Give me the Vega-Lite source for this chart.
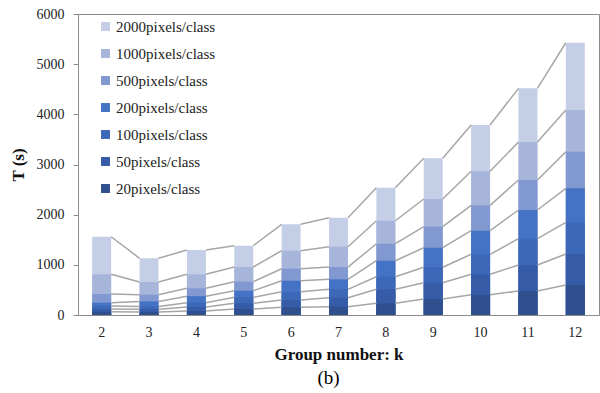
{
  "$schema": "https://vega.github.io/schema/vega-lite/v6.json",
  "width": 521,
  "height": 301,
  "autosize": {"type": "none"},
  "padding": {"left": 78, "top": 14, "right": 1, "bottom": 78},
  "background": "white",
  "title": {"text": "(b)", "orient": "bottom", "font": "Liberation Serif, serif", "fontSize": 19, "fontWeight": "normal", "color": "#000000", "offset": 7, "dx": -10},
  "data": {
    "values": [
      {"k": 2, "series": "2000pixels/class", "T": 1560}, {"k": 2, "series": "1000pixels/class", "T": 811}, {"k": 2, "series": "500pixels/class", "T": 418}, {"k": 2, "series": "200pixels/class", "T": 245}, {"k": 2, "series": "100pixels/class", "T": 180}, {"k": 2, "series": "50pixels/class", "T": 120}, {"k": 2, "series": "20pixels/class", "T": 65},
      {"k": 3, "series": "2000pixels/class", "T": 1130}, {"k": 3, "series": "1000pixels/class", "T": 658}, {"k": 3, "series": "500pixels/class", "T": 405}, {"k": 3, "series": "200pixels/class", "T": 270}, {"k": 3, "series": "100pixels/class", "T": 170}, {"k": 3, "series": "50pixels/class", "T": 115}, {"k": 3, "series": "20pixels/class", "T": 60},
      {"k": 4, "series": "2000pixels/class", "T": 1295}, {"k": 4, "series": "1000pixels/class", "T": 811}, {"k": 4, "series": "500pixels/class", "T": 532}, {"k": 4, "series": "200pixels/class", "T": 375}, {"k": 4, "series": "100pixels/class", "T": 245}, {"k": 4, "series": "50pixels/class", "T": 160}, {"k": 4, "series": "20pixels/class", "T": 80},
      {"k": 5, "series": "2000pixels/class", "T": 1381}, {"k": 5, "series": "1000pixels/class", "T": 957}, {"k": 5, "series": "500pixels/class", "T": 664}, {"k": 5, "series": "200pixels/class", "T": 484}, {"k": 5, "series": "100pixels/class", "T": 353}, {"k": 5, "series": "50pixels/class", "T": 233}, {"k": 5, "series": "20pixels/class", "T": 120},
      {"k": 6, "series": "2000pixels/class", "T": 1808}, {"k": 6, "series": "1000pixels/class", "T": 1282}, {"k": 6, "series": "500pixels/class", "T": 923}, {"k": 6, "series": "200pixels/class", "T": 684}, {"k": 6, "series": "100pixels/class", "T": 465}, {"k": 6, "series": "50pixels/class", "T": 299}, {"k": 6, "series": "20pixels/class", "T": 153},
      {"k": 7, "series": "2000pixels/class", "T": 1940}, {"k": 7, "series": "1000pixels/class", "T": 1361}, {"k": 7, "series": "500pixels/class", "T": 955}, {"k": 7, "series": "200pixels/class", "T": 711}, {"k": 7, "series": "100pixels/class", "T": 512}, {"k": 7, "series": "50pixels/class", "T": 345}, {"k": 7, "series": "20pixels/class", "T": 165},
      {"k": 8, "series": "2000pixels/class", "T": 2537}, {"k": 8, "series": "1000pixels/class", "T": 1879}, {"k": 8, "series": "500pixels/class", "T": 1421}, {"k": 8, "series": "200pixels/class", "T": 1082}, {"k": 8, "series": "100pixels/class", "T": 763}, {"k": 8, "series": "50pixels/class", "T": 512}, {"k": 8, "series": "20pixels/class", "T": 233},
      {"k": 9, "series": "2000pixels/class", "T": 3123}, {"k": 9, "series": "1000pixels/class", "T": 2312}, {"k": 9, "series": "500pixels/class", "T": 1760}, {"k": 9, "series": "200pixels/class", "T": 1341}, {"k": 9, "series": "100pixels/class", "T": 951}, {"k": 9, "series": "50pixels/class", "T": 644}, {"k": 9, "series": "20pixels/class", "T": 319},
      {"k": 10, "series": "2000pixels/class", "T": 3787}, {"k": 10, "series": "1000pixels/class", "T": 2864}, {"k": 10, "series": "500pixels/class", "T": 2186}, {"k": 10, "series": "200pixels/class", "T": 1680}, {"k": 10, "series": "100pixels/class", "T": 1210}, {"k": 10, "series": "50pixels/class", "T": 811}, {"k": 10, "series": "20pixels/class", "T": 405},
      {"k": 11, "series": "2000pixels/class", "T": 4518}, {"k": 11, "series": "1000pixels/class", "T": 3448}, {"k": 11, "series": "500pixels/class", "T": 2691}, {"k": 11, "series": "200pixels/class", "T": 2093}, {"k": 11, "series": "100pixels/class", "T": 1521}, {"k": 11, "series": "50pixels/class", "T": 997}, {"k": 11, "series": "20pixels/class", "T": 478},
      {"k": 12, "series": "2000pixels/class", "T": 5427}, {"k": 12, "series": "1000pixels/class", "T": 4086}, {"k": 12, "series": "500pixels/class", "T": 3255}, {"k": 12, "series": "200pixels/class", "T": 2525}, {"k": 12, "series": "100pixels/class", "T": 1848}, {"k": 12, "series": "50pixels/class", "T": 1216}, {"k": 12, "series": "20pixels/class", "T": 598}
    ]
  },
  "layer": [
    {
      "mark": {"type": "bar"},
      "encoding": {
        "x": {"field": "k", "type": "ordinal",
          "scale": {"paddingInner": 0.6, "paddingOuter": 0.3},
          "axis": {"title": "Group number: k", "labelAngle": 0, "ticks": false, "domainColor": "#8c8c8c", "labelPadding": 10, "titlePadding": 7}},
        "y": {"field": "T", "type": "quantitative", "stack": null,
          "scale": {"domain": [0, 6000]},
          "axis": {"title": "T (s)", "format": "d", "values": [0, 1000, 2000, 3000, 4000, 5000, 6000], "grid": false, "domainColor": "#8c8c8c", "tickColor": "#8c8c8c", "tickSize": 5, "labelPadding": 9, "titlePadding": 9}},
        "color": {"field": "series", "type": "nominal",
          "scale": {"domain": ["2000pixels/class", "1000pixels/class", "500pixels/class", "200pixels/class", "100pixels/class", "50pixels/class", "20pixels/class"],
                    "range": ["#C5CEE7", "#A8B5DB", "#8198D0", "#4472C4", "#3D68B8", "#365CA8", "#2F4F8F"]},
          "legend": {"title": null, "orient": "none", "legendX": 20, "legendY": 5, "symbolType": "square", "symbolSize": 80, "symbolStrokeWidth": 0, "labelFont": "Liberation Serif, serif", "labelFontSize": 15, "labelColor": "#222222", "rowPadding": 11, "labelOffset": 3}}
      }
    },
    {
      "transform": [
        {"window": [{"op": "lead", "field": "T", "as": "T2"}, {"op": "lead", "field": "k", "as": "k2"}], "groupby": ["series"], "sort": [{"field": "k", "order": "ascending"}]},
        {"filter": "datum.k2 != null"}
      ],
      "mark": {"type": "rule", "color": "#A6A6A6", "strokeWidth": 1.5},
      "encoding": {
        "x": {"field": "k", "type": "ordinal", "bandPosition": 1},
        "x2": {"field": "k2", "bandPosition": 0},
        "y": {"field": "T", "type": "quantitative"},
        "y2": {"field": "T2"}
      }
    }
  ],
  "config": {
    "view": {"stroke": "#8c8c8c"},
    "axis": {"labelFont": "Liberation Serif, serif", "labelFontSize": 14, "labelColor": "#222222", "titleFont": "Liberation Serif, serif", "titleFontSize": 17, "titleFontWeight": "bold", "titleColor": "#111111"}
  }
}
